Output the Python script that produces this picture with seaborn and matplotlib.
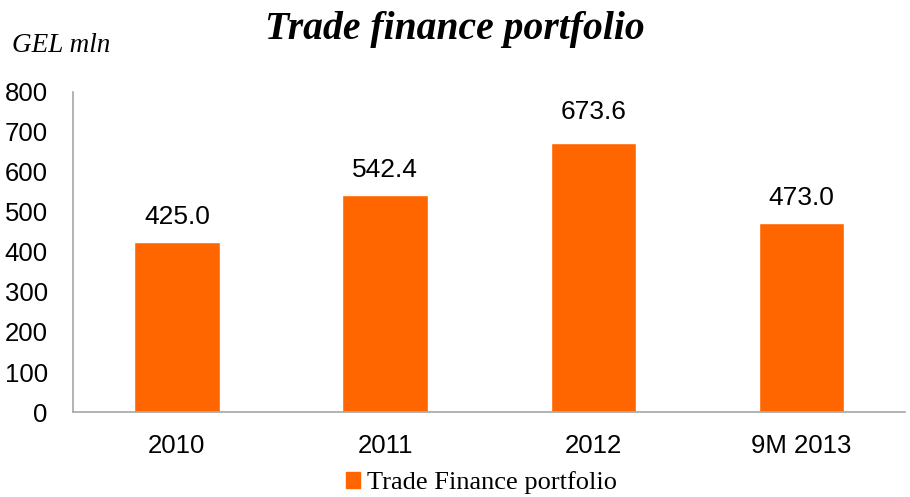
import numpy as np
import pandas as pd
import matplotlib
matplotlib.use("Agg")
import matplotlib.pyplot as plt
import seaborn as sns

# datos del grafico
periodos = ["2010", "2011", "2012", "9M 2013"]
valores = [425.0, 542.4, 673.6, 473.0]
serie = "Trade Finance portfolio"

df = pd.DataFrame({"periodo": periodos, "valor": valores, "serie": serie})

sns.set_style("white")
plt.rcParams['font.family'] = ['Liberation Sans', 'DejaVu Sans']
plt.rcParams['text.color'] = 'black'

naranja = "#FF6600"
gris = "#A6A6A6"

fig = plt.figure(figsize=(9.1, 4.97), dpi=100)
ax = fig.add_axes([0.080, 0.171, 0.915, 0.644])

sns.barplot(data=df, x="periodo", y="valor", hue="serie", palette=[naranja],
            width=0.41, saturation=1, ax=ax, legend=False)

ax.set_ylim(0, 800)
ax.set_yticks(np.arange(0, 801, 100))
ax.set_xlim(-0.5, len(periodos) - 0.5)
ax.set_xlabel("")
ax.set_ylabel("")
ax.tick_params(axis="both", length=0, labelsize=18.5, colors="black")
ax.tick_params(axis="x", pad=16)
ax.tick_params(axis="y", pad=18)

for s in ["top", "right"]:
    ax.spines[s].set_visible(False)
for s in ["left", "bottom"]:
    ax.spines[s].set_color(gris)
    ax.spines[s].set_linewidth(1.2)

# etiquetas de valor sobre cada barra
extra = [0, 0, 4, 0]
for i, v in enumerate(valores):
    ax.annotate(f"{v:.1f}", xy=(i, v), xytext=(0, 9.5 + extra[i]),
                textcoords="offset points", ha="center", va="bottom",
                fontsize=19, color="black")

fig.text(0.5, 0.921, "Trade finance portfolio", ha="center", va="baseline",
         family=["Liberation Serif"], fontsize=28.5, fontweight="bold",
         fontstyle="italic", color="black")
fig.text(0.013, 0.895, "GEL mln", ha="left", va="baseline",
         family=["Liberation Serif"], fontsize=19.5, fontstyle="italic",
         color="black")

# leyenda abajo
handle = plt.Rectangle((0, 0), 1, 1, color=naranja)
fig.legend([handle], [serie], loc="center", bbox_to_anchor=(0.529, 0.029),
           frameon=False, prop={"family": "Liberation Serif", "size": 19},
           handlelength=0.55, handleheight=0.55, handletextpad=0.25,
           borderpad=0, borderaxespad=0, labelcolor="black")

fig.savefig("out.png", dpi=100)
